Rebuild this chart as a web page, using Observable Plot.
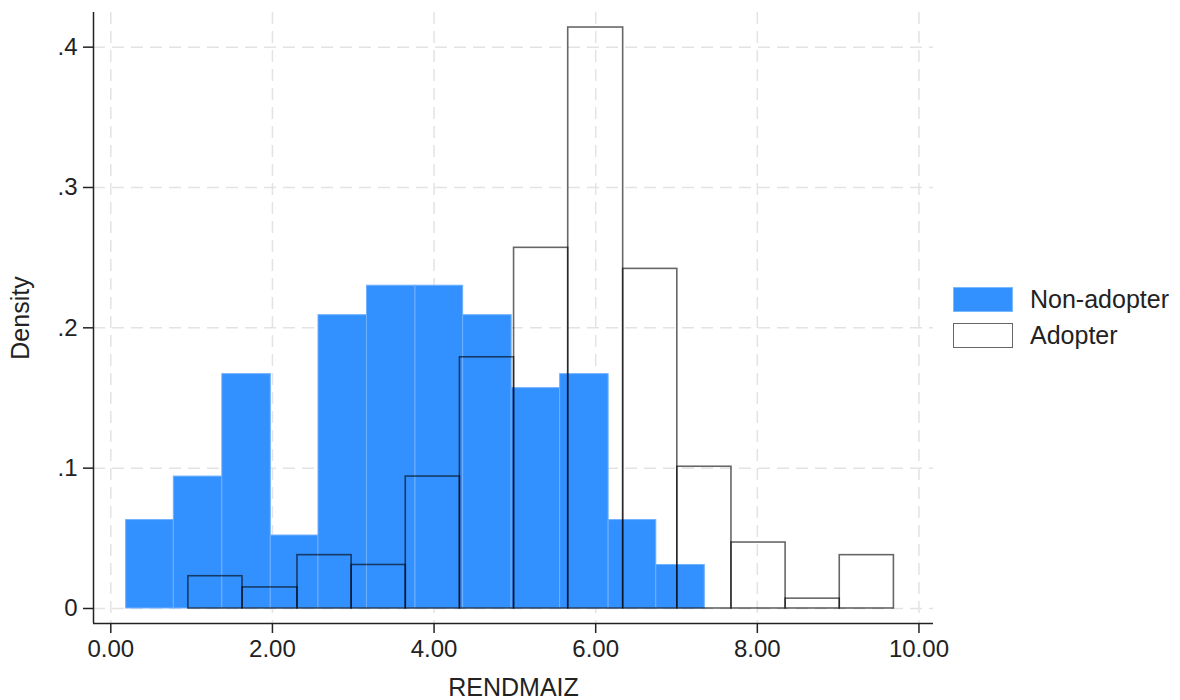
<!DOCTYPE html>
<html>
<head>
<meta charset="utf-8">
<script src="https://cdn.jsdelivr.net/npm/d3@7"></script>
<script src="https://cdn.jsdelivr.net/npm/@observablehq/plot@0.6"></script>
<style>
  html, body { margin: 0; padding: 0; background: #fff; }
  #chart { position: relative; width: 1180px; height: 700px; font-family: "Liberation Sans", Arial, Helvetica, sans-serif; color: #222; }
  #legend { position: absolute; left: 953px; top: 287px; font-size: 25px; line-height: 25px; }
  .item { display: flex; align-items: center; height: 25px; margin-bottom: 11px; }
  .swatch { width: 60px; height: 25px; box-sizing: border-box; margin-right: 17px; }
</style>
</head>
<body>
<div id="chart"><div id="legend"></div></div>
<script>
// Maize yield (RENDMAIZ) histograms, density scale, by adoption status
const nonAdopterEdges = [0.19, 0.78, 1.38, 1.98, 2.57, 3.17, 3.77, 4.36, 4.96, 5.56, 6.16, 6.75, 7.35];
const nonAdopterDensity = [0.063, 0.094, 0.167, 0.052, 0.209, 0.230, 0.230, 0.209, 0.157, 0.167, 0.063, 0.031];

const adopterEdges = [0.96, 1.63, 2.31, 2.98, 3.65, 4.32, 4.99, 5.66, 6.34, 7.01, 7.68, 8.35, 9.02, 9.69];
const adopterDensity = [0.023, 0.015, 0.038, 0.031, 0.094, 0.179, 0.257, 0.414, 0.242, 0.101, 0.047, 0.007, 0.038];

const xTicks = [0, 2, 4, 6, 8, 10];
const xTickLabels = ["0.00", "2.00", "4.00", "6.00", "8.00", "10.00"];
const yTicks = [0, 0.1, 0.2, 0.3, 0.4];
const yTickLabels = ["0", ".1", ".2", ".3", ".4"];

const groups = ["Non-adopter", "Adopter"];
const xDomain = [-0.214, 10.18];
const yDomain = [-0.0107, 0.4247];

const blue = "#3390ff";

const toBins = (edges, dens) => dens.map((d, i) => ({x1: edges[i], x2: edges[i + 1], density: d}));
const nonAdopterBins = toBins(nonAdopterEdges, nonAdopterDensity);
const adopterBins = toBins(adopterEdges, adopterDensity);

const font = "'Liberation Sans', Arial, Helvetica, sans-serif";

const chart = Plot.plot({
  width: 1180,
  height: 700,
  marginLeft: 93,
  marginRight: 247,
  marginTop: 12,
  marginBottom: 77,
  style: {fontFamily: font, fontSize: "24px", color: "#222", background: "#fff"},
  x: {domain: xDomain},
  y: {domain: yDomain},
  marks: [
    Plot.gridX(xTicks, {stroke: "#e3e3e3", strokeOpacity: 1, strokeWidth: 1.5, strokeDasharray: "12,7"}),
    Plot.gridY(yTicks, {stroke: "#e3e3e3", strokeOpacity: 1, strokeWidth: 1.5, strokeDasharray: "12,7"}),
    Plot.rectY(nonAdopterBins, {x1: "x1", x2: "x2", y1: 0, y2: "density", fill: blue, stroke: "#6fb0ff", strokeWidth: 1}),
    Plot.rectY(adopterBins, {x1: "x1", x2: "x2", y1: 0, y2: "density", fill: "none", stroke: "#000", strokeOpacity: 0.6, strokeWidth: 1.6}),
    Plot.ruleX([xDomain[0]], {stroke: "#222", strokeWidth: 1.5}),
    Plot.ruleY([yDomain[0]], {stroke: "#222", strokeWidth: 1.5}),
    Plot.axisX({
      ticks: xTicks, tickFormat: (d, i) => xTickLabels[i], tickSize: 10, tickPadding: 6,
      fontSize: 24, stroke: "#222", strokeWidth: 1.5,
      label: "RENDMAIZ", labelAnchor: "center", labelArrow: "none", labelOffset: 72
    }),
    Plot.axisY({
      ticks: yTicks, tickFormat: (d, i) => yTickLabels[i], tickSize: 10, tickPadding: 6,
      fontSize: 24, stroke: "#222", strokeWidth: 1.5,
      label: "Density", labelAnchor: "center", labelArrow: "none", labelOffset: 82
    })
  ]
});
const chartDiv = document.getElementById("chart");
chartDiv.insertBefore(chart, chartDiv.firstChild);
chart.querySelectorAll("text").forEach(t => { if (t.textContent === "RENDMAIZ" || t.textContent === "Density") t.style.fontSize = "25px"; });

// Legend
const legend = document.getElementById("legend");
const swatchStyles = [
  `background:${blue};border:1px solid #7ab8ff;`,
  "background:#fff;border:1.5px solid #666;"
];
groups.forEach((g, i) => {
  const item = document.createElement("div");
  item.className = "item";
  const sw = document.createElement("div");
  sw.className = "swatch";
  sw.style.cssText = swatchStyles[i];
  const label = document.createElement("span");
  label.textContent = g;
  item.appendChild(sw);
  item.appendChild(label);
  legend.appendChild(item);
});
</script>
</body>
</html>
